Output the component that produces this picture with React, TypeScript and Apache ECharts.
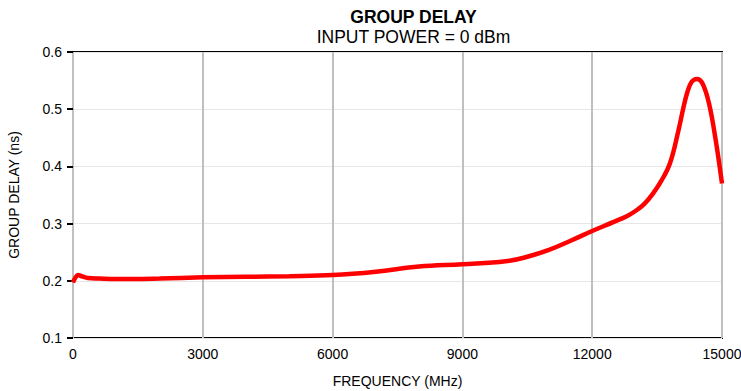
import React, { useEffect, useRef } from "react";
import * as echarts from "echarts";

const frequencyMHz = [
  0, 50, 120, 200, 350, 600, 1000, 2000, 3000, 4000, 5000, 6000, 7000, 8000,
  9000, 10000, 10500, 11000, 11500, 12000, 12500, 12800, 13000, 13200, 13400,
  13600, 13800, 14000, 14100, 14200, 14300, 14420, 14550, 14700, 14850, 15000,
];
const groupDelayNs = [
  0.197, 0.205, 0.210, 0.208, 0.205, 0.204, 0.203, 0.204, 0.206, 0.207, 0.208,
  0.210, 0.216, 0.225, 0.229, 0.234, 0.242, 0.254, 0.270, 0.287, 0.303, 0.313,
  0.322, 0.334, 0.352, 0.375, 0.406, 0.465, 0.500, 0.530, 0.548, 0.553, 0.545,
  0.510, 0.448, 0.370,
];
const xTicks = [0, 3000, 6000, 9000, 12000, 15000];
const yTicks = [0.1, 0.2, 0.3, 0.4, 0.5, 0.6];

const FONT = "'Liberation Sans', Arial, Helvetica, sans-serif";

export default function App() {
  const ref = useRef<HTMLDivElement>(null);
  useEffect(() => {
    if (!ref.current) return;
    const chart = echarts.init(ref.current, null, { renderer: "svg" });
    const data = frequencyMHz.map((f, i) => [f, groupDelayNs[i]]);
    chart.setOption({
      animation: false,
      backgroundColor: "#ffffff",
      textStyle: { fontFamily: FONT },
      title: [
        {
          text: "GROUP DELAY",
          left: 413.5,
          top: 8,
          padding: 0,
          textAlign: "center",
          textStyle: {
            fontFamily: FONT,
            fontSize: 17.5,
            lineHeight: 17.5,
            fontWeight: "bold",
            color: "#000",
          },
        },
        {
          text: "INPUT POWER = 0 dBm",
          left: 413.5,
          top: 28.5,
          padding: 0,
          textAlign: "center",
          textStyle: {
            fontFamily: FONT,
            fontSize: 17.5,
            lineHeight: 17.5,
            fontWeight: "normal",
            color: "#000",
          },
        },
      ],
      grid: {
        left: 73,
        right: 19,
        top: 52,
        bottom: 53,
        outerBoundsMode: "none",
        containLabel: false,
        show: true,
        borderColor: "#000",
        borderWidth: 2,
        backgroundColor: "transparent",
      },
      xAxis: {
        type: "value",
        min: xTicks[0],
        max: xTicks[xTicks.length - 1],
        interval: 3000,
        name: "FREQUENCY (MHz)",
        nameLocation: "middle",
        nameGap: 36,
        nameTextStyle: { fontFamily: FONT, fontSize: 14, color: "#000" },
        axisLine: { show: false },
        axisTick: { show: false },
        axisLabel: {
          fontFamily: FONT,
          fontSize: 14,
          color: "#000",
          margin: 9,
          formatter: (v: number) => String(v),
        },
        splitLine: { show: true, lineStyle: { color: "#c0c0c0", width: 2 } },
      },
      yAxis: {
        type: "value",
        min: yTicks[0],
        max: yTicks[yTicks.length - 1],
        interval: 0.1,
        name: "GROUP DELAY (ns)",
        nameLocation: "middle",
        nameGap: 52,
        nameTextStyle: { fontFamily: FONT, fontSize: 14, color: "#000" },
        axisLine: { show: false },
        axisTick: { show: true, length: 6, lineStyle: { color: "#000", width: 2 } },
        axisLabel: {
          fontFamily: FONT,
          fontSize: 14,
          color: "#000",
          margin: 11,
          formatter: (v: number) => v.toFixed(1),
        },
        splitLine: { show: true, lineStyle: { color: "#e6e6e6", width: 1 } },
      },
      series: [
        {
          type: "line",
          data,
          smooth: 0.4,
          showSymbol: false,
          symbol: "none",
          lineStyle: { color: "#ff0000", width: 4.5 },
          clip: true,
        },
      ],
    });
    return () => chart.dispose();
  }, []);
  return <div ref={ref} style={{ width: 741, height: 391, position: "absolute", left: 0, top: 0 }} />;
}
